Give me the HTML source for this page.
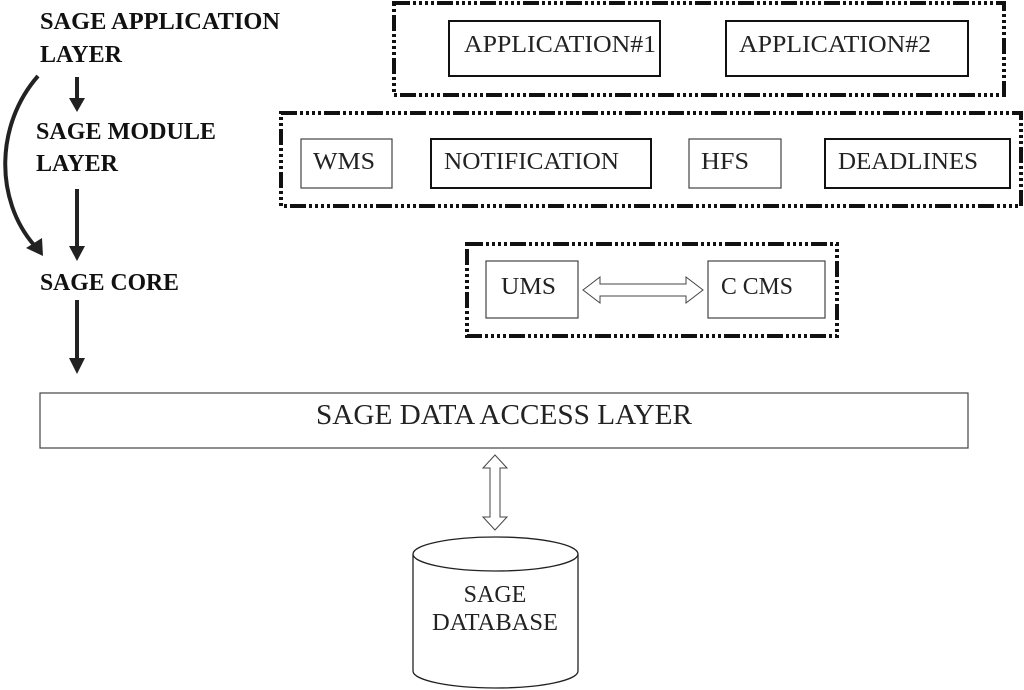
<!DOCTYPE html>
<html><head><meta charset="utf-8"><style>
html,body{margin:0;padding:0;background:#fff;}
svg{display:block;}
.b{font-family:"Liberation Serif",serif;font-weight:bold;font-size:24px;fill:#111;}
.t{font-family:"Liberation Serif",serif;font-size:24px;fill:#222;}
</style></head><body>
<svg width="1024" height="690" viewBox="0 0 1024 690" xmlns="http://www.w3.org/2000/svg">
<!-- left labels -->
<text class="b" x="40" y="29" textLength="240" lengthAdjust="spacingAndGlyphs">SAGE APPLICATION</text>
<text class="b" x="40" y="62" textLength="82" lengthAdjust="spacingAndGlyphs">LAYER</text>
<text class="b" x="36" y="139" textLength="180" lengthAdjust="spacingAndGlyphs">SAGE MODULE</text>
<text class="b" x="36" y="171" textLength="82" lengthAdjust="spacingAndGlyphs">LAYER</text>
<text class="b" x="40" y="290" textLength="139" lengthAdjust="spacingAndGlyphs">SAGE CORE</text>
<!-- arrows -->
<g stroke="#222" stroke-width="4" fill="#222">
<line x1="77" y1="77" x2="77" y2="100"/>
<polygon points="69,98 85,98 77,112" stroke="none"/>
<line x1="77" y1="189" x2="77" y2="248"/>
<polygon points="69,246 85,246 77,261" stroke="none"/>
<line x1="77" y1="300" x2="77" y2="360"/>
<polygon points="69,358 85,358 77,374" stroke="none"/>
<path d="M38,76 C-5,125 -5,200 34,245" fill="none"/>
<polygon points="26,248 42,238 43,256" stroke="none"/>
</g>
<!-- dashed containers -->
<g fill="none" stroke="#111" stroke-width="4" stroke-dasharray="16,3,3,3,3,3,3,3,3,3">
<rect x="394" y="3" width="610" height="92"/>
<rect x="281" y="113" width="740" height="93"/>
<rect x="467" y="244" width="370" height="92"/>
</g>
<g fill="none" stroke="#111" stroke-width="2">
<rect x="449" y="21" width="211" height="55"/>
<rect x="726" y="21" width="242" height="55"/>
<rect x="431" y="139" width="220" height="49"/>
<rect x="825" y="139" width="185" height="49"/>
</g>
<g fill="none" stroke="#444" stroke-width="1.2">
<rect x="301" y="139" width="91" height="49"/>
<rect x="689" y="139" width="92" height="49"/>
<rect x="486" y="261" width="92" height="57"/>
<rect x="708" y="261" width="117" height="57"/>
<rect x="40" y="393" width="928" height="55"/>
</g>
<text class="t" x="464" y="52" textLength="192" lengthAdjust="spacingAndGlyphs">APPLICATION#1</text>
<text class="t" x="739" y="52" textLength="192" lengthAdjust="spacingAndGlyphs">APPLICATION#2</text>
<text class="t" x="313" y="169" textLength="62" lengthAdjust="spacingAndGlyphs">WMS</text>
<text class="t" x="444" y="169" textLength="175" lengthAdjust="spacingAndGlyphs">NOTIFICATION</text>
<text class="t" x="701" y="169" textLength="48" lengthAdjust="spacingAndGlyphs">HFS</text>
<text class="t" x="838" y="169" textLength="140" lengthAdjust="spacingAndGlyphs">DEADLINES</text>
<text class="t" x="501" y="294" textLength="55" lengthAdjust="spacingAndGlyphs">UMS</text>
<text class="t" x="721" y="294" textLength="72" lengthAdjust="spacingAndGlyphs">C CMS</text>
<text class="t" x="316" y="424" textLength="376" lengthAdjust="spacingAndGlyphs" style="font-size:28px">SAGE DATA ACCESS LAYER</text>
<!-- hollow double arrows -->
<g fill="#fff" stroke="#444" stroke-width="1">
<polygon points="583,290 600,277 600,284 686,284 686,277 703,290 686,303 686,296 600,296 600,303"/>
<polygon points="495,455 507,468 500,468 500,517 507,517 495,530 483,517 490,517 490,468 483,468"/>
</g>
<!-- cylinder -->
<g fill="#fff" stroke="#222" stroke-width="1.3">
<path d="M413,554 L413,671 A82.5,17 0 0 0 578,671 L578,554"/>
<ellipse cx="495.5" cy="554" rx="82.5" ry="17"/>
</g>
<text class="t" x="495" y="602" text-anchor="middle">SAGE</text>
<text class="t" x="495" y="630" text-anchor="middle" textLength="126" lengthAdjust="spacingAndGlyphs">DATABASE</text>
</svg>
</body></html>
